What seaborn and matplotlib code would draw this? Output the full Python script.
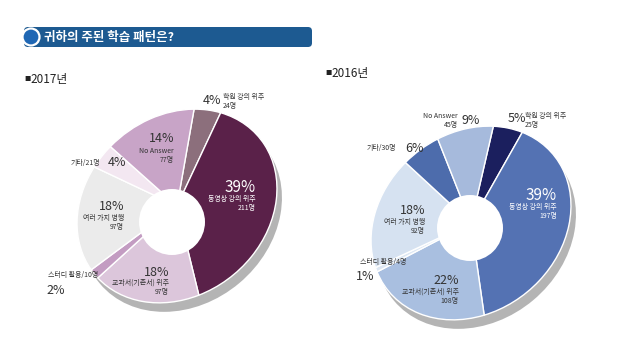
import numpy as np
import matplotlib
matplotlib.use("Agg")
import matplotlib.pyplot as plt
from matplotlib.patches import Circle, FancyBboxPatch
from matplotlib.transforms import Affine2D
import seaborn as sns

sns.set_theme(style="white")
plt.rcParams['font.family'] = ['Noto Sans CJK KR', 'DejaVu Sans']

# --- data (clockwise from the top) ---
categories = ["학원 강의 위주", "동영상 강의 위주", "교과서(기존서) 위주", "스터디 활용",
              "여러 가지 병행", "기타", "No Answer"]
counts_2017 = [24, 211, 97, 10, 97, 21, 77]
pct_2017 = [4, 39, 18, 2, 18, 4, 14]
counts_2016 = [25, 197, 108, 4, 92, 30, 45]
pct_2016 = [5, 39, 22, 1, 18, 6, 9]

colors_2017 = ["#8c6f7c", "#5a2149", "#dcc6db", "#c39cc2", "#ebebeb", "#f3e7f1", "#c8a4c7"]
colors_2016 = ["#1b1f5e", "#5472b3", "#a9bfe0", "#dde7f3", "#d6e2f1", "#4d6cac", "#a6badc"]

W, H = 640, 353
fig = plt.figure(figsize=(6.4, 3.53), dpi=100)
ax = fig.add_axes([0, 0, 1, 1])


def Y(y):  # image row -> data y
    return H - y


# title bar
ax.add_patch(FancyBboxPatch((24, Y(47)), 288, 20, boxstyle="round,pad=0,rounding_size=4",
                            fc="#1d5a91", ec="none"))
ax.add_patch(Circle((31, Y(37)), 8.5, fc="#1f67b4", ec="white", lw=1.6, zorder=3))
ax.text(44, Y(37.5), "귀하의 주된 학습 패턴은?", color="white", fontsize=9,
        fontweight="bold", va="center", ha="left")

for x0, y0, yr in [(24, 79, "2017년"), (325, 73, "2016년")]:
    ax.text(x0, Y(y0), "■", fontsize=4.5, va="center", ha="left", color="#222222")
    ax.text(x0 + 6.5, Y(y0), yr, fontsize=8.5, va="center", ha="left", color="#222222")

# perspective of the tilted donut: ellipse, long axis along ENE-WSW
A, B, ROT = 107, 89, 40


def donut(counts, colors, center, hole, top_angle):
    cx, cy = center[0], Y(center[1])
    tr = Affine2D().scale(A, B).rotate_deg(ROT).translate(cx, cy) + ax.transData
    sh = Affine2D().scale(A, B).rotate_deg(ROT).translate(cx + 5, cy - 9) + ax.transData
    ax.add_patch(Circle((0, 0), 1, fc="#b4b4b4", ec="none", zorder=1, transform=sh))
    # start angle in the un-tilted frame that lands on top_angle on screen
    phi = np.radians(top_angle - ROT)
    start = np.degrees(np.arctan2(A * np.sin(phi), B * np.cos(phi)))
    wedges, _ = ax.pie(counts, colors=colors, center=(0, 0), radius=1,
                       startangle=start, counterclock=False, frame=True,
                       wedgeprops=dict(edgecolor="white", linewidth=1.0))
    for w in wedges:
        w.set_transform(tr)
        w.set_zorder(2)
    ax.add_patch(Circle((hole[0], Y(hole[1])), 33, fc="white", ec="none", zorder=3))


donut(counts_2017, colors_2017, (177, 206), (172, 222), 80)
donut(counts_2016, colors_2016, (471, 223), (470, 228), 77)
ax.set_xlim(0, W)
ax.set_ylim(0, H)
ax.set_aspect("equal")
ax.axis("off")

DARK = "#333333"


def lab(x, y, s, size=5, color=DARK, ha="center", **kw):
    ax.text(x, Y(y), s, fontsize=size, color=color, ha=ha, va="center", zorder=5, **kw)


# 2017 labels
lab(256, 187, f"{pct_2017[1]}%", 11, "white", "right")
lab(256, 199, categories[1], 5, "white", "right")
lab(256, 208, f"{counts_2017[1]}명", 5, "white", "right")
lab(174, 138, f"{pct_2017[6]}%", 9, DARK, "right")
lab(174, 151, categories[6], 5, DARK, "right")
lab(174, 160, f"{counts_2017[6]}명", 5, DARK, "right")
lab(124, 207, f"{pct_2017[4]}%", 9, DARK, "right")
lab(124, 218, categories[4], 5, DARK, "right")
lab(124, 227, f"{counts_2017[4]}명", 5, DARK, "right")
lab(169, 272, f"{pct_2017[2]}%", 9, DARK, "right")
lab(169, 283, categories[2], 5, DARK, "right")
lab(169, 292, f"{counts_2017[2]}명", 5, DARK, "right")
lab(100, 163, f"{categories[5]}/{counts_2017[5]}명", 5, DARK, "right")
lab(108, 163, f"{pct_2017[5]}%", 9, DARK, "left")
lab(48, 275, f"{categories[3]}/{counts_2017[3]}명", 5, DARK, "left")
lab(46, 290, f"{pct_2017[3]}%", 9, DARK, "left")
lab(203, 100, f"{pct_2017[0]}%", 9, DARK, "left")
lab(223, 97, categories[0], 5, DARK, "left")
lab(223, 106, f"{counts_2017[0]}명", 5, DARK, "left")

# 2016 labels
lab(557, 195, f"{pct_2016[1]}%", 11, "white", "right")
lab(557, 207, categories[1], 5, "white", "right")
lab(557, 216, f"{counts_2016[1]}명", 5, "white", "right")
lab(458, 116, categories[6], 5, DARK, "right")
lab(458, 125, f"{counts_2016[6]}명", 5, DARK, "right")
lab(462, 120, f"{pct_2016[6]}%", 9, DARK, "left")
lab(508, 119, f"{pct_2016[0]}%", 9, DARK, "left")
lab(525, 116, categories[0], 5, DARK, "left")
lab(525, 125, f"{counts_2016[0]}명", 5, DARK, "left")
lab(396, 148, f"{categories[5]}/{counts_2016[5]}명", 5, DARK, "right")
lab(405, 148, f"{pct_2016[5]}%", 9, DARK, "left")
lab(425, 210, f"{pct_2016[4]}%", 9, DARK, "right")
lab(425, 222, categories[4], 5, DARK, "right")
lab(425, 231, f"{counts_2016[4]}명", 5, DARK, "right")
lab(360, 262, f"{categories[3]}/{counts_2016[3]}명", 5, DARK, "left")
lab(356, 277, f"{pct_2016[3]}%", 9, DARK, "left")
lab(459, 280, f"{pct_2016[2]}%", 9, DARK, "right")
lab(459, 292, categories[2], 5, DARK, "right")
lab(459, 301, f"{counts_2016[2]}명", 5, DARK, "right")

fig.savefig("out.png", dpi=100)
